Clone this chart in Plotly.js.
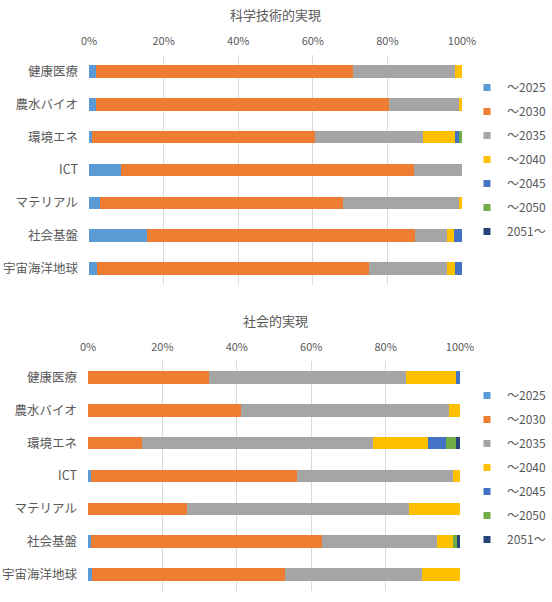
<!DOCTYPE html>
<html>
<head>
<meta charset="utf-8">
<script src="https://cdn.plot.ly/plotly-3.0.1.min.js"></script>
<style>html,body{margin:0;padding:0;background:#fff}#chart{width:552px;height:602px}</style>
</head>
<body>
<div id="chart"></div>
<script>
// Categories and series names
const categories = ["健康医療", "農水バイオ", "環境エネ", "ICT", "マテリアル", "社会基盤", "宇宙海洋地球"];
const seriesNames = ["～2025", "～2030", "～2035", "～2040", "～2045", "～2050", "2051～"];
const tickValues = [0, 20, 40, 60, 80, 100];
const tickLabels = ["0%", "20%", "40%", "60%", "80%", "100%"];
const topTitle = "科学技術的実現";
const bottomTitle = "社会的実現";

// 科学技術的実現 (percent)
const sci2025 = [2.0, 2.0, 0.9, 8.6, 3.0, 15.6, 2.1];
const sci2030 = [68.7, 78.3, 59.6, 78.4, 65.2, 71.8, 72.9];
const sci2035 = [27.3, 18.8, 29.1, 13.0, 30.9, 8.5, 21.1];
const sci2040 = [2.0, 0.9, 8.5, 0, 0.9, 1.9, 2.0];
const sci2045 = [0, 0, 1.0, 0, 0, 2.2, 1.9];
const sci2050 = [0, 0, 0.9, 0, 0, 0, 0];
const sci2051 = [0, 0, 0, 0, 0, 0, 0];

// 社会的実現 (percent)
const soc2025 = [0, 0, 0, 0.9, 0, 0.9, 1.1];
const soc2030 = [32.4, 41.2, 14.4, 55.2, 26.7, 62.1, 51.8];
const soc2035 = [53.0, 55.8, 62.1, 41.9, 59.6, 30.7, 37.0];
const soc2040 = [13.6, 3.0, 15.0, 2.0, 13.7, 4.3, 10.1];
const soc2045 = [1.0, 0, 4.8, 0, 0, 0, 0];
const soc2050 = [0, 0, 2.7, 0, 0, 1.1, 0];
const soc2051 = [0, 0, 1.0, 0, 0, 0.9, 0];

const colors = ["#5B9BD5", "#ED7D31", "#A5A5A5", "#FFC000", "#4472C4", "#70AD47", "#264478"];
const sciSeries = [sci2025, sci2030, sci2035, sci2040, sci2045, sci2050, sci2051];
const socSeries = [soc2025, soc2030, soc2035, soc2040, soc2045, soc2050, soc2051];

const W = 552, H = 602;
const FONT = "Noto Sans CJK JP, Noto Sans, sans-serif";
const GREY = "#595959";

const traces = [];
function addBars(series, xa, ya, lg, grp) {
  series.forEach((vals, i) => {
    traces.push({
      type: "bar", orientation: "h",
      x: vals, y: categories, xaxis: xa, yaxis: ya,
      marker: {color: colors[i], line: {width: 0}},
      name: seriesNames[i], showlegend: false, hoverinfo: "x+y+name"
    });
  });
  // legend entries (small square markers)
  seriesNames.forEach((nm, i) => {
    traces.push({
      type: "scatter", mode: "markers", x: [null], y: [null], xaxis: xa, yaxis: ya,
      marker: {symbol: "square", size: 7, color: colors[i]},
      name: nm, legend: lg, legendgroup: grp + i, showlegend: true
    });
  });
}
addBars(sciSeries, "x", "y", "legend", "a");
addBars(socSeries, "x2", "y2", "legend2", "b");

function xAxis(domain, anchor) {
  return {
    domain: domain, anchor: anchor, side: "top", range: [0, 100],
    tickmode: "array", tickvals: tickValues, ticktext: tickLabels,
    showgrid: true, gridcolor: "#D9D9D9", gridwidth: 1,
    zeroline: false, showline: false, ticks: "", ticklabelstandoff: 7, fixedrange: true,
    tickfont: {family: FONT, size: 11, color: GREY}
  };
}
function yAxis(domain, anchor) {
  return {
    domain: domain, anchor: anchor, type: "category", range: [6.5, -0.5],
    showgrid: false, zeroline: false, showline: false, ticks: "", ticklabelstandoff: 10,
    tickfont: {family: FONT, size: 12.5, color: GREY}
  };
}
function legendAt(topPx) {
  return {
    x: 467 / W, xanchor: "left", y: 1 - topPx / H, yanchor: "top",
    traceorder: "grouped", tracegroupgap: 5, itemwidth: 30,
    font: {family: FONT, size: 12, color: GREY}, bgcolor: "rgba(0,0,0,0)"
  };
}

const layout = {
  width: W, height: H, margin: {l: 0, r: 0, t: 0, b: 0},
  paper_bgcolor: "#fff", plot_bgcolor: "#fff",
  barmode: "stack", bargap: 0.62, showlegend: true,
  font: {family: FONT, color: GREY},
  xaxis: xAxis([89 / W, 462 / W], "y"),
  yaxis: yAxis([1 - 285 / H, 1 - 55 / H], "x"),
  xaxis2: xAxis([88 / W, 460 / W], "y2"),
  yaxis2: yAxis([1 - 591 / H, 1 - 361 / H], "x2"),
  legend: legendAt(73),
  legend2: legendAt(381),
  annotations: [
    {text: topTitle, xref: "paper", yref: "paper", x: 275 / W, y: 1 - 14 / H, showarrow: false,
     xanchor: "center", yanchor: "middle", font: {family: FONT, size: 13, color: GREY}},
    {text: bottomTitle, xref: "paper", yref: "paper", x: 275 / W, y: 1 - 320 / H, showarrow: false,
     xanchor: "center", yanchor: "middle", font: {family: FONT, size: 13, color: GREY}}
  ]
};

Plotly.newPlot("chart", traces, layout, {displayModeBar: false, staticPlot: true});
</script>
</body>
</html>
